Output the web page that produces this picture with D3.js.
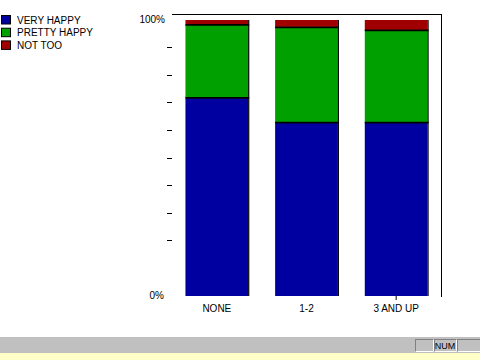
<!DOCTYPE html>
<html><head><meta charset="utf-8">
<script src="https://cdn.jsdelivr.net/npm/d3@7"></script>
<style>html,body{margin:0;padding:0;background:#fff;}svg{display:block;}</style>
</head><body>
<svg id="c" width="480" height="360"></svg>
<script>
const categories = ["NONE", "1-2", "3 AND UP"];
const seriesNames = ["VERY HAPPY", "PRETTY HAPPY", "NOT TOO"];
const veryHappy = [72.0, 63.0, 63.0];
const prettyHappy = [26.4, 34.5, 33.4];
const notToo = [1.6, 2.5, 3.6];
const yTickLabels = ["0%", "100%"];
const yTicks = [20,30,40,50,60,70,80,90];
const colors = ["#0000a0", "#00a000", "#a00000"];

const svg = d3.select("#c");
const font = "'Liberation Sans', Arial, sans-serif";

const x = d3.scaleBand().domain(categories).range([172, 441]).paddingInner(0.3).paddingOuter(0.15);
const y = d3.scaleLinear().domain([0, 100]).range([296, 20]);

const rows = categories.map((c, i) => ({cat: c, "VERY HAPPY": veryHappy[i], "PRETTY HAPPY": prettyHappy[i], "NOT TOO": notToo[i]}));
const stack = d3.stack().keys(seriesNames)(rows);

// frame: top and right lines
svg.append("line").attr("x1", 172).attr("x2", 442).attr("y1", 14.5).attr("y2", 14.5).attr("stroke", "#000");
svg.append("line").attr("x1", 441.5).attr("x2", 441.5).attr("y1", 14).attr("y2", 297).attr("stroke", "#000");

// bars
stack.forEach((s, si) => {
  svg.append("g").selectAll("rect").data(s).join("rect")
    .attr("x", d => x(d.data.cat))
    .attr("width", x.bandwidth())
    .attr("y", d => y(d[1]))
    .attr("height", d => y(d[0]) - y(d[1]))
    .attr("fill", colors[si]);
});
// segment boundaries
stack.slice(0, 2).forEach(s => {
  svg.append("g").selectAll("line").data(s).join("line")
    .attr("x1", d => x(d.data.cat)).attr("x2", d => x(d.data.cat) + x.bandwidth() + 1)
    .attr("y1", d => y(d[1]) + 0.5).attr("y2", d => y(d[1]) + 0.5)
    .attr("stroke", "#000").attr("stroke-width", 1.8);
});
// right edge shadow
svg.append("g").selectAll("line").data(categories).join("line")
  .attr("x1", d => x(d) + x.bandwidth() + 0.5).attr("x2", d => x(d) + x.bandwidth() + 0.5)
  .attr("y1", y(100)).attr("y2", y(0))
  .attr("stroke", "#000").attr("stroke-width", 1.2);

// small tick under last category
svg.append("line").attr("x1", x(categories[2]) + x.bandwidth()/2).attr("x2", x(categories[2]) + x.bandwidth()/2)
  .attr("y1", 296).attr("y2", 300).attr("stroke", "#000");

// y ticks
svg.append("g").selectAll("line").data(yTicks).join("line")
  .attr("x1", 167).attr("x2", 172).attr("y1", d => Math.floor(y(d)) + 0.5).attr("y2", d => Math.floor(y(d)) + 0.5)
  .attr("stroke", "#000");
svg.append("text").attr("x", 165).attr("y", y(100) + 3).attr("text-anchor", "end")
  .attr("font-family", font).attr("font-size", 10).text(yTickLabels[1]);
svg.append("text").attr("x", 164).attr("y", y(0) + 3).attr("text-anchor", "end")
  .attr("font-family", font).attr("font-size", 10).text(yTickLabels[0]);

// x labels
svg.append("g").selectAll("text").data(categories).join("text")
  .attr("x", d => x(d) + x.bandwidth()/2).attr("y", 312).attr("text-anchor", "middle")
  .attr("font-family", font).attr("font-size", 10).text(d => d);

// legend
const lg = svg.append("g");
seriesNames.forEach((n, i) => {
  const yy = 15 + i * 12.7;
  lg.append("rect").attr("x", 1.5).attr("y", yy + 0.5).attr("width", 9).attr("height", 8.5)
    .attr("fill", colors[i]).attr("stroke", "#000").attr("stroke-width", 1);
  lg.append("text").attr("x", 17).attr("y", yy + 8.5).attr("font-family", font).attr("font-size", 10).text(n);
});

// status bar
svg.append("rect").attr("x", 0).attr("y", 337).attr("width", 480).attr("height", 16).attr("fill", "#c0c0c0");
svg.append("rect").attr("x", 0).attr("y", 353).attr("width", 480).attr("height", 7).attr("fill", "#ffffc8");
[[415, 18], [434, 22], [457, 23]].forEach(([bx, bw]) => {
  svg.append("rect").attr("x", bx + 0.5).attr("y", 339.5).attr("width", bw).attr("height", 12)
    .attr("fill", "none").attr("stroke", "#808080");
  svg.append("path").attr("d", `M${bx + 0.5},${351.5}H${bx + bw + 0.5}V${339.5}`).attr("fill", "none").attr("stroke", "#fff");
});
svg.append("text").attr("x", 445).attr("y", 349).attr("text-anchor", "middle")
  .attr("font-family", font).attr("font-size", 9).text("NUM");
</script>
</body></html>
